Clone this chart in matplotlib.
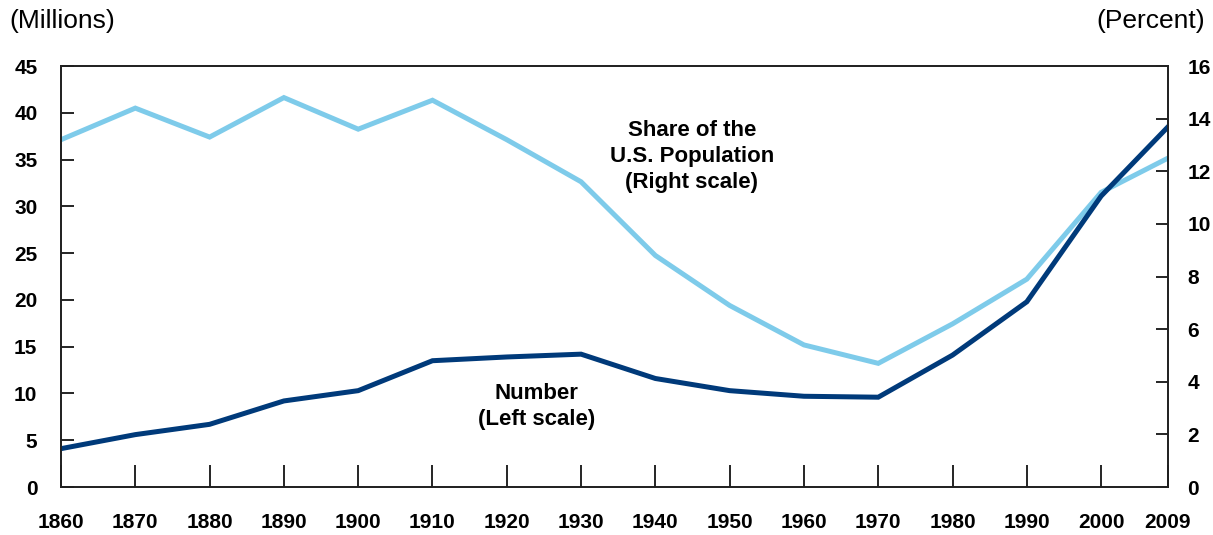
import matplotlib.pyplot as plt

years = [1860, 1870, 1880, 1890, 1900, 1910, 1920, 1930, 1940, 1950,
         1960, 1970, 1980, 1990, 2000, 2009]
number_millions = [4.1, 5.6, 6.7, 9.2, 10.3, 13.5, 13.9, 14.2, 11.6, 10.3,
                   9.7, 9.6, 14.1, 19.8, 31.1, 38.5]
share_percent = [13.2, 14.4, 13.3, 14.8, 13.6, 14.7, 13.2, 11.6, 8.8, 6.9,
                 5.4, 4.7, 6.2, 7.9, 11.2, 12.5]
xticks = [1860, 1870, 1880, 1890, 1900, 1910, 1920, 1930, 1940, 1950,
          1960, 1970, 1980, 1990, 2000, 2009]

plt.rcParams['font.family'] = ['Liberation Sans', 'DejaVu Sans']

dark = '#003a7a'
light = '#7ecbea'

fig = plt.figure(figsize=(12.13, 5.35), dpi=100)
ax = fig.add_axes([0.0503, 0.0897, 0.9126, 0.7869])
ax2 = ax.twinx()

ax2.plot(years, share_percent, color=light, lw=3.6, solid_joinstyle='miter')
ax.plot(years, number_millions, color=dark, lw=3.6, solid_joinstyle='miter')
ax.set_zorder(ax2.get_zorder() + 1)
ax.patch.set_visible(False)

ax.set_xlim(1860, 2009)
ax.set_ylim(0, 45)
ax2.set_ylim(0, 16)
ax.set_yticks(range(0, 46, 5))
ax2.set_yticks(range(0, 17, 2))
ax.set_xticks(xticks)

for a in (ax, ax2):
    for s in a.spines.values():
        s.set_linewidth(1.3)
        s.set_color('#222222')

ax.tick_params(axis='y', direction='in', length=9, width=1.2, pad=17, labelsize=15)
ax.tick_params(axis='x', direction='in', length=16, width=1.2, pad=19, labelsize=15)
ax2.tick_params(axis='y', direction='in', length=9, width=1.2, pad=14, labelsize=15)
for lab in ax.get_xticklabels() + ax.get_yticklabels() + ax2.get_yticklabels():
    lab.set_fontweight('bold')

fig.text(0.008, 0.96, '(Millions)', fontsize=19, ha='left', va='center')
fig.text(0.993, 0.96, '(Percent)', fontsize=19, ha='right', va='center')

ax.text(1944.9, 35.3, 'Share of the\nU.S. Population\n(Right scale)', ha='center', va='center',
        fontsize=16, fontweight='bold', linespacing=1.3)
ax.text(1924, 8.6, 'Number\n(Left scale)', ha='center', va='center',
        fontsize=16, fontweight='bold', linespacing=1.3)

fig.savefig('out.png', dpi=100)
